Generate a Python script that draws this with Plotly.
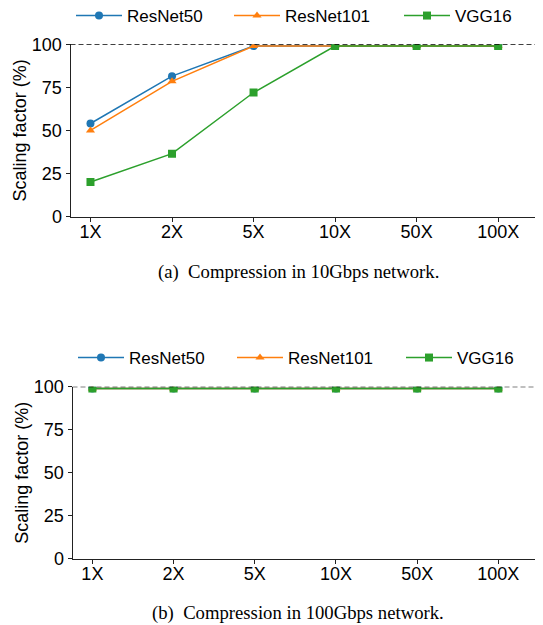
import plotly.graph_objects as go

categories = ["1X", "2X", "5X", "10X", "50X", "100X"]
series_names = ["ResNet50", "ResNet101", "VGG16"]
top_resnet50 = [54, 81.5, 99, 99, 99, 99]
top_resnet101 = [50, 78.5, 99, 99, 99, 99]
top_vgg16 = [20, 36.5, 72, 99, 99, 99]
bot_resnet50 = [99, 99, 99, 99, 99, 99]
bot_resnet101 = [99, 99, 99, 99, 99, 99]
bot_vgg16 = [99, 99, 99, 99, 99, 99]
y_ticks = [0, 25, 50, 75, 100]
captions = ["(a)  Compression in 10Gbps network.", "(b)  Compression in 100Gbps network."]

colors = ["#1f77b4", "#ff7f0e", "#2ca02c"]
symbols = ["circle", "triangle-up", "square"]

# page body has an 8px margin; size the figure to fill the 543x625 window
OFF = 8
W, H = 543 - OFF, 625 - OFF

def px(s):   # window x pixel -> paper fraction
    return (s - OFF) / W

def py(s):   # window y pixel -> paper fraction
    return 1 - (s - OFF) / H

fig = go.Figure()

legend_ids_top = ["legend", "legend2", "legend3"]
legend_ids_bot = ["legend4", "legend5", "legend6"]

def add_panel(vals, xa, ya, legend_ids):
    for name, v, c, s, lg in zip(series_names, vals, colors, symbols, legend_ids):
        fig.add_trace(go.Scatter(
            x=categories, y=v, name=name, mode="lines+markers",
            line=dict(color=c, width=1.5),
            marker=dict(color=c, symbol=s, size=8),
            xaxis=xa, yaxis=ya, legend=lg, showlegend=True,
        ))

add_panel([top_resnet50, top_resnet101, top_vgg16], "x", "y", legend_ids_top)
add_panel([bot_resnet50, bot_resnet101, bot_vgg16], "x2", "y2", legend_ids_bot)

tick_font = dict(family="Liberation Sans, Arial, sans-serif", size=18, color="black")

def xaxis(left_s, anchor):
    return dict(
        domain=[px(left_s), 1.0], anchor=anchor, automargin=False,
        type="category", range=[-0.245, 5.55],
        showline=True, linecolor="#222", linewidth=1,
        ticks="outside", ticklen=4, tickcolor="#222",
        ticklabelstandoff=-5,
        showgrid=False, zeroline=False, tickfont=tick_font,
    )

def yaxis(top_s, bot_s, anchor):
    return dict(
        domain=[py(bot_s), py(top_s)], anchor=anchor, automargin=False,
        range=[0, 100], tickvals=y_ticks,
        showline=True, linecolor="#222", linewidth=1,
        ticks="outside", ticklen=4, tickcolor="#222",
        showgrid=False, zeroline=False, tickfont=tick_font,
        title=dict(text="Scaling factor (%)", font=tick_font, standoff=0),
    )

legend_common = dict(
    orientation="h", xanchor="left", yanchor="middle",
    font=dict(family="Liberation Sans, Arial, sans-serif", size=17, color="black"),
    bgcolor="rgba(0,0,0,0)", itemwidth=46,
)

legend_layout = {}
for lg, xs in zip(legend_ids_top, [71, 229, 399]):
    legend_layout[lg] = dict(x=px(xs), y=py(16), **legend_common)
for lg, xs in zip(legend_ids_bot, [73, 232, 401]):
    legend_layout[lg] = dict(x=px(xs), y=py(358), **legend_common)

cap_font = dict(family="Liberation Serif, serif", size=18.7, color="black")

dash_line = dict(color="black", width=1.3, dash="5px,3px")

fig.update_layout(
    width=W, height=H,
    margin=dict(l=0, r=0, t=0, b=0, autoexpand=False),
    paper_bgcolor="white", plot_bgcolor="white",
    showlegend=True,
    xaxis=xaxis(70.5, "y"), yaxis=yaxis(44.3, 216.5, "x"),
    xaxis2=xaxis(72.5, "y2"), yaxis2=yaxis(386.7, 558.7, "x2"),
    shapes=[
        dict(type="line", xref="x domain", yref="y", x0=0, x1=1, y0=100, y1=100,
             line=dash_line, layer="above"),
        dict(type="line", xref="x2 domain", yref="y2", x0=0, x1=1, y0=100, y1=100,
             line=dash_line, layer="above"),
    ],
    annotations=[
        dict(text=captions[0], x=px(298), y=py(272), xref="paper", yref="paper",
             showarrow=False, xanchor="center", yanchor="middle", font=cap_font),
        dict(text=captions[1], x=px(298), y=py(613), xref="paper", yref="paper",
             showarrow=False, xanchor="center", yanchor="middle", font=cap_font),
    ],
    **legend_layout,
)

fig.write_html("out.html")
